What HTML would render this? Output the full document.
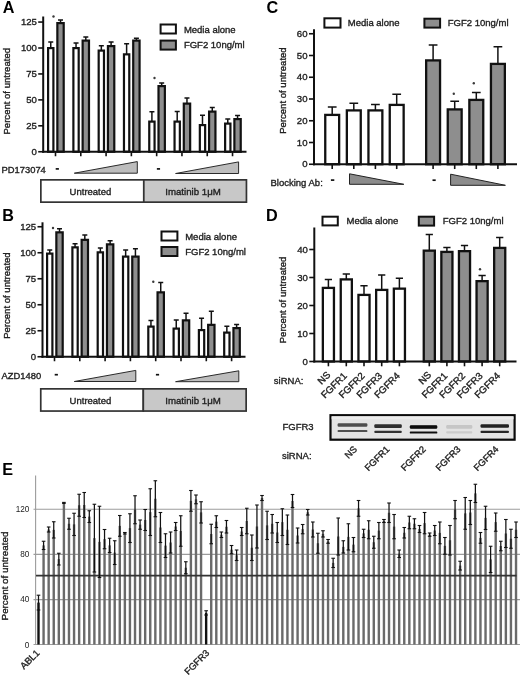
<!DOCTYPE html>
<html><head><meta charset="utf-8"><title>Figure</title>
<style>html,body{margin:0;padding:0;background:#fff;width:520px;height:676px;overflow:hidden}svg{display:block;font-family:"Liberation Sans", sans-serif;will-change:transform;filter:blur(0.3px)}</style>
</head><body>
<svg width="520" height="676" viewBox="0 0 520 676" font-family='&quot;Liberation Sans&quot;, sans-serif'>
<defs><filter id="blur" x="-10%" y="-100%" width="120%" height="300%"><feGaussianBlur stdDeviation="0.5"/></filter></defs>
<rect width="520" height="676" fill="#fff"/>
<text x="2.8" y="13.4" font-size="16.2" text-anchor="start" font-weight="bold" fill="#000">A</text>
<line x1="43.2" y1="16.5" x2="43.2" y2="152.75" stroke="#111" stroke-width="2"/>
<line x1="38.2" y1="151.75" x2="43.2" y2="151.75" stroke="#111" stroke-width="1.6"/>
<text x="36.9" y="155.15" font-size="9.6" text-anchor="end" font-weight="normal" fill="#222" stroke="#222" stroke-width="0.35">0</text>
<line x1="38.2" y1="125.81" x2="43.2" y2="125.81" stroke="#111" stroke-width="1.6"/>
<text x="36.9" y="129.21" font-size="9.6" text-anchor="end" font-weight="normal" fill="#222" stroke="#222" stroke-width="0.35">25</text>
<line x1="38.2" y1="99.88" x2="43.2" y2="99.88" stroke="#111" stroke-width="1.6"/>
<text x="36.9" y="103.28" font-size="9.6" text-anchor="end" font-weight="normal" fill="#222" stroke="#222" stroke-width="0.35">50</text>
<line x1="38.2" y1="73.94" x2="43.2" y2="73.94" stroke="#111" stroke-width="1.6"/>
<text x="36.9" y="77.34" font-size="9.6" text-anchor="end" font-weight="normal" fill="#222" stroke="#222" stroke-width="0.35">75</text>
<line x1="38.2" y1="48" x2="43.2" y2="48" stroke="#111" stroke-width="1.6"/>
<text x="36.9" y="51.4" font-size="9.6" text-anchor="end" font-weight="normal" fill="#222" stroke="#222" stroke-width="0.35">100</text>
<line x1="38.2" y1="22.06" x2="43.2" y2="22.06" stroke="#111" stroke-width="1.6"/>
<text x="36.9" y="25.46" font-size="9.6" text-anchor="end" font-weight="normal" fill="#222" stroke="#222" stroke-width="0.35">125</text>
<line x1="50.75" y1="48" x2="50.75" y2="42" stroke="#111" stroke-width="1.5"/>
<line x1="48.25" y1="42" x2="53.25" y2="42" stroke="#111" stroke-width="1.5"/>
<rect x="48.1" y="48.1" width="5.3" height="103.65" fill="#fff" stroke="#111" stroke-width="2.2"/>
<line x1="60.52" y1="23" x2="60.52" y2="20" stroke="#111" stroke-width="1.5"/>
<line x1="58.02" y1="20" x2="63.02" y2="20" stroke="#111" stroke-width="1.5"/>
<rect x="57.35" y="23.1" width="6.35" height="128.65" fill="#8e8e8e" stroke="#111" stroke-width="2.2"/>
<line x1="55.5" y1="151.75" x2="55.5" y2="156.25" stroke="#111" stroke-width="1.6"/>
<line x1="76.04" y1="48" x2="76.04" y2="43" stroke="#111" stroke-width="1.5"/>
<line x1="73.54" y1="43" x2="78.54" y2="43" stroke="#111" stroke-width="1.5"/>
<rect x="73.39" y="48.1" width="5.3" height="103.65" fill="#fff" stroke="#111" stroke-width="2.2"/>
<line x1="85.81" y1="40.5" x2="85.81" y2="37" stroke="#111" stroke-width="1.5"/>
<line x1="83.31" y1="37" x2="88.31" y2="37" stroke="#111" stroke-width="1.5"/>
<rect x="82.64" y="40.6" width="6.35" height="111.15" fill="#8e8e8e" stroke="#111" stroke-width="2.2"/>
<line x1="80.79" y1="151.75" x2="80.79" y2="156.25" stroke="#111" stroke-width="1.6"/>
<line x1="101.33" y1="50.5" x2="101.33" y2="45.75" stroke="#111" stroke-width="1.5"/>
<line x1="98.83" y1="45.75" x2="103.83" y2="45.75" stroke="#111" stroke-width="1.5"/>
<rect x="98.68" y="50.6" width="5.3" height="101.15" fill="#fff" stroke="#111" stroke-width="2.2"/>
<line x1="111.1" y1="46" x2="111.1" y2="42" stroke="#111" stroke-width="1.5"/>
<line x1="108.6" y1="42" x2="113.6" y2="42" stroke="#111" stroke-width="1.5"/>
<rect x="107.93" y="46.1" width="6.35" height="105.65" fill="#8e8e8e" stroke="#111" stroke-width="2.2"/>
<line x1="106.08" y1="151.75" x2="106.08" y2="156.25" stroke="#111" stroke-width="1.6"/>
<line x1="126.62" y1="54.25" x2="126.62" y2="43.75" stroke="#111" stroke-width="1.5"/>
<line x1="124.12" y1="43.75" x2="129.12" y2="43.75" stroke="#111" stroke-width="1.5"/>
<rect x="123.97" y="54.35" width="5.3" height="97.4" fill="#fff" stroke="#111" stroke-width="2.2"/>
<line x1="136.4" y1="40.5" x2="136.4" y2="38.25" stroke="#111" stroke-width="1.5"/>
<line x1="133.9" y1="38.25" x2="138.9" y2="38.25" stroke="#111" stroke-width="1.5"/>
<rect x="133.22" y="40.6" width="6.35" height="111.15" fill="#8e8e8e" stroke="#111" stroke-width="2.2"/>
<line x1="131.37" y1="151.75" x2="131.37" y2="156.25" stroke="#111" stroke-width="1.6"/>
<line x1="151.91" y1="121.5" x2="151.91" y2="111.75" stroke="#111" stroke-width="1.5"/>
<line x1="149.41" y1="111.75" x2="154.41" y2="111.75" stroke="#111" stroke-width="1.5"/>
<rect x="149.26" y="121.6" width="5.3" height="30.15" fill="#fff" stroke="#111" stroke-width="2.2"/>
<line x1="161.69" y1="86" x2="161.69" y2="83" stroke="#111" stroke-width="1.5"/>
<line x1="159.19" y1="83" x2="164.19" y2="83" stroke="#111" stroke-width="1.5"/>
<rect x="158.51" y="86.1" width="6.35" height="65.65" fill="#8e8e8e" stroke="#111" stroke-width="2.2"/>
<line x1="156.66" y1="151.75" x2="156.66" y2="156.25" stroke="#111" stroke-width="1.6"/>
<line x1="177.2" y1="121.5" x2="177.2" y2="111.5" stroke="#111" stroke-width="1.5"/>
<line x1="174.7" y1="111.5" x2="179.7" y2="111.5" stroke="#111" stroke-width="1.5"/>
<rect x="174.55" y="121.6" width="5.3" height="30.15" fill="#fff" stroke="#111" stroke-width="2.2"/>
<line x1="186.97" y1="103.5" x2="186.97" y2="98" stroke="#111" stroke-width="1.5"/>
<line x1="184.47" y1="98" x2="189.47" y2="98" stroke="#111" stroke-width="1.5"/>
<rect x="183.8" y="103.6" width="6.35" height="48.15" fill="#8e8e8e" stroke="#111" stroke-width="2.2"/>
<line x1="181.95" y1="151.75" x2="181.95" y2="156.25" stroke="#111" stroke-width="1.6"/>
<line x1="202.49" y1="125" x2="202.49" y2="115.25" stroke="#111" stroke-width="1.5"/>
<line x1="199.99" y1="115.25" x2="204.99" y2="115.25" stroke="#111" stroke-width="1.5"/>
<rect x="199.84" y="125.1" width="5.3" height="26.65" fill="#fff" stroke="#111" stroke-width="2.2"/>
<line x1="212.27" y1="111.5" x2="212.27" y2="107.5" stroke="#111" stroke-width="1.5"/>
<line x1="209.77" y1="107.5" x2="214.77" y2="107.5" stroke="#111" stroke-width="1.5"/>
<rect x="209.09" y="111.6" width="6.35" height="40.15" fill="#8e8e8e" stroke="#111" stroke-width="2.2"/>
<line x1="207.24" y1="151.75" x2="207.24" y2="156.25" stroke="#111" stroke-width="1.6"/>
<line x1="227.78" y1="123.5" x2="227.78" y2="119" stroke="#111" stroke-width="1.5"/>
<line x1="225.28" y1="119" x2="230.28" y2="119" stroke="#111" stroke-width="1.5"/>
<rect x="225.13" y="123.6" width="5.3" height="28.15" fill="#fff" stroke="#111" stroke-width="2.2"/>
<line x1="237.56" y1="119" x2="237.56" y2="115.5" stroke="#111" stroke-width="1.5"/>
<line x1="235.06" y1="115.5" x2="240.06" y2="115.5" stroke="#111" stroke-width="1.5"/>
<rect x="234.38" y="119.1" width="6.35" height="32.65" fill="#8e8e8e" stroke="#111" stroke-width="2.2"/>
<line x1="232.53" y1="151.75" x2="232.53" y2="156.25" stroke="#111" stroke-width="1.6"/>
<line x1="42.2" y1="151.75" x2="246.5" y2="151.75" stroke="#111" stroke-width="2"/>
<circle cx="53.5" cy="16.5" r="1.2" fill="#3a3a3a"/>
<circle cx="154.5" cy="78" r="1.2" fill="#3a3a3a"/>
<text transform="translate(10 91.25) rotate(-90)" font-size="9.55" text-anchor="middle" font-weight="normal" fill="#222" stroke="#222" stroke-width="0.35">Percent of untreated</text>
<rect x="160.6" y="24.5" width="15.3" height="9" fill="#fff" stroke="#111" stroke-width="2"/>
<rect x="160.6" y="40.6" width="15.3" height="9" fill="#8e8e8e" stroke="#111" stroke-width="2"/>
<text x="183.9" y="33.1" font-size="9.5" text-anchor="start" font-weight="normal" fill="#222" stroke="#222" stroke-width="0.35">Media alone</text>
<text x="183.9" y="47.8" font-size="9.5" text-anchor="start" font-weight="normal" fill="#222" stroke="#222" stroke-width="0.35">FGF2 10ng/ml</text>
<text x="1.5" y="173.3" font-size="9.4" text-anchor="start" font-weight="normal" fill="#222" stroke="#222" stroke-width="0.35">PD173074</text>
<line x1="55.7" y1="168.9" x2="58.9" y2="168.9" stroke="#111" stroke-width="1.7"/>
<line x1="156.86" y1="168.9" x2="160.06" y2="168.9" stroke="#111" stroke-width="1.7"/>
<polygon points="74.3,173.2 137.3,161.6 137.3,173.2" fill="#bdbdbd" stroke="#2a2a2a" stroke-width="1" stroke-linejoin="miter"/>
<polygon points="175.6,173.5 238.6,161.9 238.6,173.5" fill="#bdbdbd" stroke="#2a2a2a" stroke-width="1" stroke-linejoin="miter"/>
<rect x="40.85" y="179.85" width="102.95" height="22.3" fill="#fff" stroke="#333" stroke-width="1.7"/>
<rect x="143.8" y="179.85" width="102.65" height="22.3" fill="#c8c8c8" stroke="#333" stroke-width="1.7"/>
<text x="69.6" y="195.4" font-size="9.5" text-anchor="start" font-weight="normal" fill="#222" stroke="#222" stroke-width="0.35">Untreated</text>
<text x="165.2" y="195.4" font-size="9.7" text-anchor="start" font-weight="normal" fill="#222" stroke="#222" stroke-width="0.35">Imatinib 1&#956;M</text>
<text x="2.3" y="221" font-size="16.2" text-anchor="start" font-weight="bold" fill="#000">B</text>
<line x1="42.5" y1="222.3" x2="42.5" y2="357.75" stroke="#111" stroke-width="2"/>
<line x1="37.5" y1="356.75" x2="42.5" y2="356.75" stroke="#111" stroke-width="1.6"/>
<text x="36.2" y="360.15" font-size="9.6" text-anchor="end" font-weight="normal" fill="#222" stroke="#222" stroke-width="0.35">0</text>
<line x1="37.5" y1="330.75" x2="42.5" y2="330.75" stroke="#111" stroke-width="1.6"/>
<text x="36.2" y="334.15" font-size="9.6" text-anchor="end" font-weight="normal" fill="#222" stroke="#222" stroke-width="0.35">25</text>
<line x1="37.5" y1="304.75" x2="42.5" y2="304.75" stroke="#111" stroke-width="1.6"/>
<text x="36.2" y="308.15" font-size="9.6" text-anchor="end" font-weight="normal" fill="#222" stroke="#222" stroke-width="0.35">50</text>
<line x1="37.5" y1="278.75" x2="42.5" y2="278.75" stroke="#111" stroke-width="1.6"/>
<text x="36.2" y="282.15" font-size="9.6" text-anchor="end" font-weight="normal" fill="#222" stroke="#222" stroke-width="0.35">75</text>
<line x1="37.5" y1="252.75" x2="42.5" y2="252.75" stroke="#111" stroke-width="1.6"/>
<text x="36.2" y="256.15" font-size="9.6" text-anchor="end" font-weight="normal" fill="#222" stroke="#222" stroke-width="0.35">100</text>
<line x1="37.5" y1="226.75" x2="42.5" y2="226.75" stroke="#111" stroke-width="1.6"/>
<text x="36.2" y="230.15" font-size="9.6" text-anchor="end" font-weight="normal" fill="#222" stroke="#222" stroke-width="0.35">125</text>
<line x1="49.75" y1="253.5" x2="49.75" y2="250" stroke="#111" stroke-width="1.5"/>
<line x1="47.25" y1="250" x2="52.25" y2="250" stroke="#111" stroke-width="1.5"/>
<rect x="47.1" y="253.6" width="5.3" height="103.15" fill="#fff" stroke="#111" stroke-width="2.2"/>
<line x1="59.52" y1="232.25" x2="59.52" y2="228.75" stroke="#111" stroke-width="1.5"/>
<line x1="57.02" y1="228.75" x2="62.02" y2="228.75" stroke="#111" stroke-width="1.5"/>
<rect x="56.35" y="232.35" width="6.35" height="124.4" fill="#8e8e8e" stroke="#111" stroke-width="2.2"/>
<line x1="54.5" y1="356.75" x2="54.5" y2="361.25" stroke="#111" stroke-width="1.6"/>
<line x1="75.05" y1="247.25" x2="75.05" y2="243.75" stroke="#111" stroke-width="1.5"/>
<line x1="72.55" y1="243.75" x2="77.55" y2="243.75" stroke="#111" stroke-width="1.5"/>
<rect x="72.4" y="247.35" width="5.3" height="109.4" fill="#fff" stroke="#111" stroke-width="2.2"/>
<line x1="84.82" y1="239.75" x2="84.82" y2="235" stroke="#111" stroke-width="1.5"/>
<line x1="82.32" y1="235" x2="87.32" y2="235" stroke="#111" stroke-width="1.5"/>
<rect x="81.65" y="239.85" width="6.35" height="116.9" fill="#8e8e8e" stroke="#111" stroke-width="2.2"/>
<line x1="79.8" y1="356.75" x2="79.8" y2="361.25" stroke="#111" stroke-width="1.6"/>
<line x1="100.35" y1="252.25" x2="100.35" y2="248" stroke="#111" stroke-width="1.5"/>
<line x1="97.85" y1="248" x2="102.85" y2="248" stroke="#111" stroke-width="1.5"/>
<rect x="97.7" y="252.35" width="5.3" height="104.4" fill="#fff" stroke="#111" stroke-width="2.2"/>
<line x1="110.12" y1="244.25" x2="110.12" y2="240.75" stroke="#111" stroke-width="1.5"/>
<line x1="107.62" y1="240.75" x2="112.62" y2="240.75" stroke="#111" stroke-width="1.5"/>
<rect x="106.95" y="244.35" width="6.35" height="112.4" fill="#8e8e8e" stroke="#111" stroke-width="2.2"/>
<line x1="105.1" y1="356.75" x2="105.1" y2="361.25" stroke="#111" stroke-width="1.6"/>
<line x1="125.65" y1="256.5" x2="125.65" y2="250" stroke="#111" stroke-width="1.5"/>
<line x1="123.15" y1="250" x2="128.15" y2="250" stroke="#111" stroke-width="1.5"/>
<rect x="123" y="256.6" width="5.3" height="100.15" fill="#fff" stroke="#111" stroke-width="2.2"/>
<line x1="135.43" y1="256.5" x2="135.43" y2="248.75" stroke="#111" stroke-width="1.5"/>
<line x1="132.93" y1="248.75" x2="137.93" y2="248.75" stroke="#111" stroke-width="1.5"/>
<rect x="132.25" y="256.6" width="6.35" height="100.15" fill="#8e8e8e" stroke="#111" stroke-width="2.2"/>
<line x1="130.4" y1="356.75" x2="130.4" y2="361.25" stroke="#111" stroke-width="1.6"/>
<line x1="150.95" y1="326.5" x2="150.95" y2="320.5" stroke="#111" stroke-width="1.5"/>
<line x1="148.45" y1="320.5" x2="153.45" y2="320.5" stroke="#111" stroke-width="1.5"/>
<rect x="148.3" y="326.6" width="5.3" height="30.15" fill="#fff" stroke="#111" stroke-width="2.2"/>
<line x1="160.72" y1="292.25" x2="160.72" y2="282.5" stroke="#111" stroke-width="1.5"/>
<line x1="158.22" y1="282.5" x2="163.22" y2="282.5" stroke="#111" stroke-width="1.5"/>
<rect x="157.55" y="292.35" width="6.35" height="64.4" fill="#8e8e8e" stroke="#111" stroke-width="2.2"/>
<line x1="155.7" y1="356.75" x2="155.7" y2="361.25" stroke="#111" stroke-width="1.6"/>
<line x1="176.25" y1="328.5" x2="176.25" y2="320" stroke="#111" stroke-width="1.5"/>
<line x1="173.75" y1="320" x2="178.75" y2="320" stroke="#111" stroke-width="1.5"/>
<rect x="173.6" y="328.6" width="5.3" height="28.15" fill="#fff" stroke="#111" stroke-width="2.2"/>
<line x1="186.03" y1="320.25" x2="186.03" y2="313.25" stroke="#111" stroke-width="1.5"/>
<line x1="183.53" y1="313.25" x2="188.53" y2="313.25" stroke="#111" stroke-width="1.5"/>
<rect x="182.85" y="320.35" width="6.35" height="36.4" fill="#8e8e8e" stroke="#111" stroke-width="2.2"/>
<line x1="181" y1="356.75" x2="181" y2="361.25" stroke="#111" stroke-width="1.6"/>
<line x1="201.55" y1="330" x2="201.55" y2="318.25" stroke="#111" stroke-width="1.5"/>
<line x1="199.05" y1="318.25" x2="204.05" y2="318.25" stroke="#111" stroke-width="1.5"/>
<rect x="198.9" y="330.1" width="5.3" height="26.65" fill="#fff" stroke="#111" stroke-width="2.2"/>
<line x1="211.33" y1="324.75" x2="211.33" y2="311.25" stroke="#111" stroke-width="1.5"/>
<line x1="208.83" y1="311.25" x2="213.83" y2="311.25" stroke="#111" stroke-width="1.5"/>
<rect x="208.15" y="324.85" width="6.35" height="31.9" fill="#8e8e8e" stroke="#111" stroke-width="2.2"/>
<line x1="206.3" y1="356.75" x2="206.3" y2="361.25" stroke="#111" stroke-width="1.6"/>
<line x1="226.85" y1="332.5" x2="226.85" y2="326.25" stroke="#111" stroke-width="1.5"/>
<line x1="224.35" y1="326.25" x2="229.35" y2="326.25" stroke="#111" stroke-width="1.5"/>
<rect x="224.2" y="332.6" width="5.3" height="24.15" fill="#fff" stroke="#111" stroke-width="2.2"/>
<line x1="236.62" y1="328" x2="236.62" y2="324.5" stroke="#111" stroke-width="1.5"/>
<line x1="234.12" y1="324.5" x2="239.12" y2="324.5" stroke="#111" stroke-width="1.5"/>
<rect x="233.45" y="328.1" width="6.35" height="28.65" fill="#8e8e8e" stroke="#111" stroke-width="2.2"/>
<line x1="231.6" y1="356.75" x2="231.6" y2="361.25" stroke="#111" stroke-width="1.6"/>
<line x1="41.5" y1="356.75" x2="245.5" y2="356.75" stroke="#111" stroke-width="2"/>
<circle cx="53" cy="228" r="1.2" fill="#3a3a3a"/>
<circle cx="153.3" cy="281.8" r="1.2" fill="#3a3a3a"/>
<text transform="translate(10 295.6) rotate(-90)" font-size="9.55" text-anchor="middle" font-weight="normal" fill="#222" stroke="#222" stroke-width="0.35">Percent of untreated</text>
<rect x="161.5" y="231.5" width="15.9" height="9" fill="#fff" stroke="#111" stroke-width="2"/>
<rect x="161.5" y="247" width="15.9" height="9" fill="#8e8e8e" stroke="#111" stroke-width="2"/>
<text x="185.2" y="239.6" font-size="9.5" text-anchor="start" font-weight="normal" fill="#222" stroke="#222" stroke-width="0.35">Media alone</text>
<text x="185.2" y="254.8" font-size="9.5" text-anchor="start" font-weight="normal" fill="#222" stroke="#222" stroke-width="0.35">FGF2 10ng/ml</text>
<text x="1.5" y="379.1" font-size="9.4" text-anchor="start" font-weight="normal" fill="#222" stroke="#222" stroke-width="0.35">AZD1480</text>
<line x1="54.7" y1="374.7" x2="57.9" y2="374.7" stroke="#111" stroke-width="1.7"/>
<line x1="155.9" y1="374.7" x2="159.1" y2="374.7" stroke="#111" stroke-width="1.7"/>
<polygon points="74.3,381.5 135.8,370.4 135.8,381.5" fill="#bdbdbd" stroke="#2a2a2a" stroke-width="1" stroke-linejoin="miter"/>
<polygon points="175.6,381.7 238.8,370.8 238.8,381.7" fill="#bdbdbd" stroke="#2a2a2a" stroke-width="1" stroke-linejoin="miter"/>
<rect x="40.75" y="388.85" width="102.55" height="22.2" fill="#fff" stroke="#333" stroke-width="1.7"/>
<rect x="143.3" y="388.85" width="102.85" height="22.2" fill="#c8c8c8" stroke="#333" stroke-width="1.7"/>
<text x="69.6" y="404.3" font-size="9.5" text-anchor="start" font-weight="normal" fill="#222" stroke="#222" stroke-width="0.35">Untreated</text>
<text x="165.2" y="404.3" font-size="9.7" text-anchor="start" font-weight="normal" fill="#222" stroke="#222" stroke-width="0.35">Imatinib 1&#956;M</text>
<text x="266.4" y="13.3" font-size="16.2" text-anchor="start" font-weight="bold" fill="#000">C</text>
<line x1="314" y1="29.2" x2="314" y2="165.25" stroke="#111" stroke-width="2"/>
<line x1="309" y1="164.25" x2="314" y2="164.25" stroke="#111" stroke-width="1.6"/>
<text x="307.5" y="167.45" font-size="9.6" text-anchor="end" font-weight="normal" fill="#222" stroke="#222" stroke-width="0.35">0</text>
<line x1="309" y1="142.5" x2="314" y2="142.5" stroke="#111" stroke-width="1.6"/>
<text x="307.5" y="145.7" font-size="9.6" text-anchor="end" font-weight="normal" fill="#222" stroke="#222" stroke-width="0.35">10</text>
<line x1="309" y1="120.75" x2="314" y2="120.75" stroke="#111" stroke-width="1.6"/>
<text x="307.5" y="123.95" font-size="9.6" text-anchor="end" font-weight="normal" fill="#222" stroke="#222" stroke-width="0.35">20</text>
<line x1="309" y1="99" x2="314" y2="99" stroke="#111" stroke-width="1.6"/>
<text x="307.5" y="102.2" font-size="9.6" text-anchor="end" font-weight="normal" fill="#222" stroke="#222" stroke-width="0.35">30</text>
<line x1="309" y1="77.25" x2="314" y2="77.25" stroke="#111" stroke-width="1.6"/>
<text x="307.5" y="80.45" font-size="9.6" text-anchor="end" font-weight="normal" fill="#222" stroke="#222" stroke-width="0.35">40</text>
<line x1="309" y1="55.5" x2="314" y2="55.5" stroke="#111" stroke-width="1.6"/>
<text x="307.5" y="58.7" font-size="9.6" text-anchor="end" font-weight="normal" fill="#222" stroke="#222" stroke-width="0.35">50</text>
<line x1="309" y1="33.75" x2="314" y2="33.75" stroke="#111" stroke-width="1.6"/>
<text x="307.5" y="36.95" font-size="9.6" text-anchor="end" font-weight="normal" fill="#222" stroke="#222" stroke-width="0.35">60</text>
<line x1="332.2" y1="114.75" x2="332.2" y2="107" stroke="#111" stroke-width="1.5"/>
<line x1="327.83" y1="107" x2="336.57" y2="107" stroke="#111" stroke-width="1.5"/>
<rect x="325.25" y="114.9" width="13.9" height="49.35" fill="#fff" stroke="#111" stroke-width="2.3"/>
<line x1="332.2" y1="164.25" x2="332.2" y2="169.05" stroke="#111" stroke-width="1.6"/>
<line x1="353.8" y1="110.25" x2="353.8" y2="103.25" stroke="#111" stroke-width="1.5"/>
<line x1="349.43" y1="103.25" x2="358.17" y2="103.25" stroke="#111" stroke-width="1.5"/>
<rect x="346.85" y="110.4" width="13.9" height="53.85" fill="#fff" stroke="#111" stroke-width="2.3"/>
<line x1="353.8" y1="164.25" x2="353.8" y2="169.05" stroke="#111" stroke-width="1.6"/>
<line x1="375.4" y1="110.25" x2="375.4" y2="104.5" stroke="#111" stroke-width="1.5"/>
<line x1="371.03" y1="104.5" x2="379.77" y2="104.5" stroke="#111" stroke-width="1.5"/>
<rect x="368.45" y="110.4" width="13.9" height="53.85" fill="#fff" stroke="#111" stroke-width="2.3"/>
<line x1="375.4" y1="164.25" x2="375.4" y2="169.05" stroke="#111" stroke-width="1.6"/>
<line x1="396.7" y1="104.75" x2="396.7" y2="94.25" stroke="#111" stroke-width="1.5"/>
<line x1="392.33" y1="94.25" x2="401.07" y2="94.25" stroke="#111" stroke-width="1.5"/>
<rect x="389.75" y="104.9" width="13.9" height="59.35" fill="#fff" stroke="#111" stroke-width="2.3"/>
<line x1="396.7" y1="164.25" x2="396.7" y2="169.05" stroke="#111" stroke-width="1.6"/>
<line x1="433.1" y1="60.25" x2="433.1" y2="45" stroke="#111" stroke-width="1.5"/>
<line x1="428.73" y1="45" x2="437.47" y2="45" stroke="#111" stroke-width="1.5"/>
<rect x="426.15" y="60.4" width="13.9" height="103.85" fill="#8e8e8e" stroke="#111" stroke-width="2.3"/>
<line x1="433.1" y1="164.25" x2="433.1" y2="169.05" stroke="#111" stroke-width="1.6"/>
<line x1="454.7" y1="109.25" x2="454.7" y2="101.25" stroke="#111" stroke-width="1.5"/>
<line x1="450.33" y1="101.25" x2="459.07" y2="101.25" stroke="#111" stroke-width="1.5"/>
<rect x="447.75" y="109.4" width="13.9" height="54.85" fill="#8e8e8e" stroke="#111" stroke-width="2.3"/>
<line x1="454.7" y1="164.25" x2="454.7" y2="169.05" stroke="#111" stroke-width="1.6"/>
<line x1="476.3" y1="99.75" x2="476.3" y2="92.5" stroke="#111" stroke-width="1.5"/>
<line x1="471.93" y1="92.5" x2="480.67" y2="92.5" stroke="#111" stroke-width="1.5"/>
<rect x="469.35" y="99.9" width="13.9" height="64.35" fill="#8e8e8e" stroke="#111" stroke-width="2.3"/>
<line x1="476.3" y1="164.25" x2="476.3" y2="169.05" stroke="#111" stroke-width="1.6"/>
<line x1="497.9" y1="63.75" x2="497.9" y2="46.75" stroke="#111" stroke-width="1.5"/>
<line x1="493.53" y1="46.75" x2="502.27" y2="46.75" stroke="#111" stroke-width="1.5"/>
<rect x="490.95" y="63.9" width="13.9" height="100.35" fill="#8e8e8e" stroke="#111" stroke-width="2.3"/>
<line x1="497.9" y1="164.25" x2="497.9" y2="169.05" stroke="#111" stroke-width="1.6"/>
<line x1="313" y1="164.25" x2="517" y2="164.25" stroke="#111" stroke-width="2"/>
<circle cx="453.8" cy="93.8" r="1.2" fill="#3a3a3a"/>
<circle cx="473.8" cy="83.3" r="1.2" fill="#3a3a3a"/>
<text transform="translate(286 90.6) rotate(-90)" font-size="9.55" text-anchor="middle" font-weight="normal" fill="#222" stroke="#222" stroke-width="0.35">Percent of untreated</text>
<rect x="324.4" y="18.3" width="16.1" height="9.3" fill="#fff" stroke="#111" stroke-width="2"/>
<text x="347.8" y="26.3" font-size="9.5" text-anchor="start" font-weight="normal" fill="#222" stroke="#222" stroke-width="0.35">Media alone</text>
<rect x="424.4" y="18.7" width="15.7" height="8.9" fill="#8e8e8e" stroke="#111" stroke-width="2"/>
<text x="447.8" y="26.3" font-size="9.5" text-anchor="start" font-weight="normal" fill="#222" stroke="#222" stroke-width="0.35">FGF2 10ng/ml</text>
<text x="270.5" y="185.8" font-size="9.5" text-anchor="start" font-weight="normal" fill="#222" stroke="#222" stroke-width="0.35">Blocking Ab:</text>
<line x1="330.9" y1="180.1" x2="334.3" y2="180.1" stroke="#111" stroke-width="1.7"/>
<line x1="432.5" y1="180.2" x2="435.7" y2="180.2" stroke="#111" stroke-width="1.7"/>
<polygon points="349.5,173.8 349.5,184.3 403.8,184.3" fill="#8c8c8c" stroke="#222" stroke-width="1"/>
<polygon points="450.6,174.2 450.6,185.3 505.4,185.3" fill="#8c8c8c" stroke="#222" stroke-width="1"/>
<text x="266" y="221" font-size="16.2" text-anchor="start" font-weight="bold" fill="#000">D</text>
<line x1="314.3" y1="227.5" x2="314.3" y2="362.5" stroke="#111" stroke-width="2"/>
<line x1="309.3" y1="361.5" x2="314.3" y2="361.5" stroke="#111" stroke-width="1.6"/>
<text x="307.8" y="364.7" font-size="9.6" text-anchor="end" font-weight="normal" fill="#222" stroke="#222" stroke-width="0.35">0</text>
<line x1="309.3" y1="333.5" x2="314.3" y2="333.5" stroke="#111" stroke-width="1.6"/>
<text x="307.8" y="336.7" font-size="9.6" text-anchor="end" font-weight="normal" fill="#222" stroke="#222" stroke-width="0.35">10</text>
<line x1="309.3" y1="305.5" x2="314.3" y2="305.5" stroke="#111" stroke-width="1.6"/>
<text x="307.8" y="308.7" font-size="9.6" text-anchor="end" font-weight="normal" fill="#222" stroke="#222" stroke-width="0.35">20</text>
<line x1="309.3" y1="277.5" x2="314.3" y2="277.5" stroke="#111" stroke-width="1.6"/>
<text x="307.8" y="280.7" font-size="9.6" text-anchor="end" font-weight="normal" fill="#222" stroke="#222" stroke-width="0.35">30</text>
<line x1="309.3" y1="249.5" x2="314.3" y2="249.5" stroke="#111" stroke-width="1.6"/>
<text x="307.8" y="252.7" font-size="9.6" text-anchor="end" font-weight="normal" fill="#222" stroke="#222" stroke-width="0.35">40</text>
<line x1="328.4" y1="287.75" x2="328.4" y2="279.5" stroke="#111" stroke-width="1.5"/>
<line x1="324.78" y1="279.5" x2="332.02" y2="279.5" stroke="#111" stroke-width="1.5"/>
<rect x="322.85" y="287.9" width="11.1" height="73.6" fill="#fff" stroke="#111" stroke-width="2.3"/>
<line x1="328.4" y1="361.5" x2="328.4" y2="366.3" stroke="#111" stroke-width="1.6"/>
<line x1="346.3" y1="279.25" x2="346.3" y2="274" stroke="#111" stroke-width="1.5"/>
<line x1="342.68" y1="274" x2="349.92" y2="274" stroke="#111" stroke-width="1.5"/>
<rect x="340.75" y="279.4" width="11.1" height="82.1" fill="#fff" stroke="#111" stroke-width="2.3"/>
<line x1="346.3" y1="361.5" x2="346.3" y2="366.3" stroke="#111" stroke-width="1.6"/>
<line x1="364" y1="294.75" x2="364" y2="285.75" stroke="#111" stroke-width="1.5"/>
<line x1="360.38" y1="285.75" x2="367.62" y2="285.75" stroke="#111" stroke-width="1.5"/>
<rect x="358.45" y="294.9" width="11.1" height="66.6" fill="#fff" stroke="#111" stroke-width="2.3"/>
<line x1="364" y1="361.5" x2="364" y2="366.3" stroke="#111" stroke-width="1.6"/>
<line x1="381.7" y1="289.75" x2="381.7" y2="275" stroke="#111" stroke-width="1.5"/>
<line x1="378.08" y1="275" x2="385.32" y2="275" stroke="#111" stroke-width="1.5"/>
<rect x="376.15" y="289.9" width="11.1" height="71.6" fill="#fff" stroke="#111" stroke-width="2.3"/>
<line x1="381.7" y1="361.5" x2="381.7" y2="366.3" stroke="#111" stroke-width="1.6"/>
<line x1="399.4" y1="288.5" x2="399.4" y2="278.25" stroke="#111" stroke-width="1.5"/>
<line x1="395.78" y1="278.25" x2="403.02" y2="278.25" stroke="#111" stroke-width="1.5"/>
<rect x="393.85" y="288.65" width="11.1" height="72.85" fill="#fff" stroke="#111" stroke-width="2.3"/>
<line x1="399.4" y1="361.5" x2="399.4" y2="366.3" stroke="#111" stroke-width="1.6"/>
<line x1="429.3" y1="250.5" x2="429.3" y2="234.5" stroke="#111" stroke-width="1.5"/>
<line x1="425.68" y1="234.5" x2="432.92" y2="234.5" stroke="#111" stroke-width="1.5"/>
<rect x="423.75" y="250.65" width="11.1" height="110.85" fill="#8e8e8e" stroke="#111" stroke-width="2.3"/>
<line x1="429.3" y1="361.5" x2="429.3" y2="366.3" stroke="#111" stroke-width="1.6"/>
<line x1="446.9" y1="251.75" x2="446.9" y2="247.5" stroke="#111" stroke-width="1.5"/>
<line x1="443.28" y1="247.5" x2="450.52" y2="247.5" stroke="#111" stroke-width="1.5"/>
<rect x="441.35" y="251.9" width="11.1" height="109.6" fill="#8e8e8e" stroke="#111" stroke-width="2.3"/>
<line x1="446.9" y1="361.5" x2="446.9" y2="366.3" stroke="#111" stroke-width="1.6"/>
<line x1="464.5" y1="251" x2="464.5" y2="245.5" stroke="#111" stroke-width="1.5"/>
<line x1="460.88" y1="245.5" x2="468.12" y2="245.5" stroke="#111" stroke-width="1.5"/>
<rect x="458.95" y="251.15" width="11.1" height="110.35" fill="#8e8e8e" stroke="#111" stroke-width="2.3"/>
<line x1="464.5" y1="361.5" x2="464.5" y2="366.3" stroke="#111" stroke-width="1.6"/>
<line x1="482.1" y1="281" x2="482.1" y2="275.5" stroke="#111" stroke-width="1.5"/>
<line x1="478.48" y1="275.5" x2="485.72" y2="275.5" stroke="#111" stroke-width="1.5"/>
<rect x="476.55" y="281.15" width="11.1" height="80.35" fill="#8e8e8e" stroke="#111" stroke-width="2.3"/>
<line x1="482.1" y1="361.5" x2="482.1" y2="366.3" stroke="#111" stroke-width="1.6"/>
<line x1="499.7" y1="247.75" x2="499.7" y2="237.5" stroke="#111" stroke-width="1.5"/>
<line x1="496.08" y1="237.5" x2="503.32" y2="237.5" stroke="#111" stroke-width="1.5"/>
<rect x="494.15" y="247.9" width="11.1" height="113.6" fill="#8e8e8e" stroke="#111" stroke-width="2.3"/>
<line x1="499.7" y1="361.5" x2="499.7" y2="366.3" stroke="#111" stroke-width="1.6"/>
<line x1="313.3" y1="361.5" x2="516.5" y2="361.5" stroke="#111" stroke-width="2"/>
<circle cx="480" cy="269.3" r="1.2" fill="#3a3a3a"/>
<text transform="translate(285.7 300) rotate(-90)" font-size="9.55" text-anchor="middle" font-weight="normal" fill="#222" stroke="#222" stroke-width="0.35">Percent of untreated</text>
<rect x="322.5" y="216.7" width="15.3" height="8.7" fill="#fff" stroke="#111" stroke-width="2"/>
<text x="346.5" y="224.3" font-size="9.5" text-anchor="start" font-weight="normal" fill="#222" stroke="#222" stroke-width="0.35">Media alone</text>
<rect x="418.8" y="216.7" width="15.3" height="8.9" fill="#8e8e8e" stroke="#111" stroke-width="2"/>
<text x="442.8" y="224.3" font-size="9.5" text-anchor="start" font-weight="normal" fill="#222" stroke="#222" stroke-width="0.35">FGF2 10ng/ml</text>
<text x="273.8" y="384" font-size="9.5" text-anchor="start" font-weight="normal" fill="#222" stroke="#222" stroke-width="0.35">siRNA:</text>
<text transform="translate(331 375.4) rotate(-45)" font-size="9.7" text-anchor="end" font-weight="normal" fill="#222" stroke="#222" stroke-width="0.35">NS</text>
<text transform="translate(347.5 376.4) rotate(-45)" font-size="9.7" text-anchor="end" font-weight="normal" fill="#222" stroke="#222" stroke-width="0.35">FGFR1</text>
<text transform="translate(365.2 376.4) rotate(-45)" font-size="9.7" text-anchor="end" font-weight="normal" fill="#222" stroke="#222" stroke-width="0.35">FGFR2</text>
<text transform="translate(382.9 376.4) rotate(-45)" font-size="9.7" text-anchor="end" font-weight="normal" fill="#222" stroke="#222" stroke-width="0.35">FGFR3</text>
<text transform="translate(400.6 376.4) rotate(-45)" font-size="9.7" text-anchor="end" font-weight="normal" fill="#222" stroke="#222" stroke-width="0.35">FGFR4</text>
<text transform="translate(431.9 375.4) rotate(-45)" font-size="9.7" text-anchor="end" font-weight="normal" fill="#222" stroke="#222" stroke-width="0.35">NS</text>
<text transform="translate(448.1 376.4) rotate(-45)" font-size="9.7" text-anchor="end" font-weight="normal" fill="#222" stroke="#222" stroke-width="0.35">FGFR1</text>
<text transform="translate(465.7 376.4) rotate(-45)" font-size="9.7" text-anchor="end" font-weight="normal" fill="#222" stroke="#222" stroke-width="0.35">FGFR2</text>
<text transform="translate(483.3 376.4) rotate(-45)" font-size="9.7" text-anchor="end" font-weight="normal" fill="#222" stroke="#222" stroke-width="0.35">FGFR3</text>
<text transform="translate(500.9 376.4) rotate(-45)" font-size="9.7" text-anchor="end" font-weight="normal" fill="#222" stroke="#222" stroke-width="0.35">FGFR4</text>
<rect x="330.5" y="415.2" width="184.1" height="24.5" fill="#e3e3e3" stroke="#0a0a0a" stroke-width="2.2"/>
<rect x="331.6" y="416.3" width="181.9" height="3" fill="#ececec"/>
<rect x="337.6" y="423.2" width="29.8" height="3.6" rx="1.2" fill="#4e4e4e" filter="url(#blur)"/>
<rect x="337.6" y="429.9" width="29.8" height="2.2" rx="0.9" fill="#505050" filter="url(#blur)"/>
<rect x="374.3" y="424.3" width="27.5" height="3.6" rx="1.2" fill="#2e2e2e" filter="url(#blur)"/>
<rect x="374.3" y="430.8" width="27.5" height="2.2" rx="0.9" fill="#333333" filter="url(#blur)"/>
<rect x="409.8" y="425.2" width="27.5" height="3.6" rx="1.2" fill="#080808" filter="url(#blur)"/>
<rect x="409.8" y="431.4" width="27.5" height="2.2" rx="0.9" fill="#0e0e0e" filter="url(#blur)"/>
<rect x="446.2" y="425.1" width="26.1" height="3.6" rx="1.2" fill="#c6c6c6" filter="url(#blur)"/>
<rect x="446.2" y="431.2" width="26.1" height="2.2" rx="0.9" fill="#cbcbcb" filter="url(#blur)"/>
<rect x="480.5" y="424.2" width="28.5" height="3.6" rx="1.2" fill="#222222" filter="url(#blur)"/>
<rect x="480.5" y="430.8" width="28.5" height="2.2" rx="0.9" fill="#282828" filter="url(#blur)"/>
<text x="282.5" y="429.6" font-size="9.5" text-anchor="start" font-weight="normal" fill="#222" stroke="#222" stroke-width="0.35">FGFR3</text>
<text x="282" y="458.8" font-size="9.5" text-anchor="start" font-weight="normal" fill="#222" stroke="#222" stroke-width="0.35">siRNA:</text>
<text transform="translate(357.7 449.9) rotate(-45)" font-size="9.3" text-anchor="end" font-weight="normal" fill="#222" stroke="#222" stroke-width="0.35">NS</text>
<text transform="translate(390.1 449.9) rotate(-45)" font-size="9.3" text-anchor="end" font-weight="normal" fill="#222" stroke="#222" stroke-width="0.35">FGFR1</text>
<text transform="translate(426.3 449.9) rotate(-45)" font-size="9.3" text-anchor="end" font-weight="normal" fill="#222" stroke="#222" stroke-width="0.35">FGFR2</text>
<text transform="translate(461.1 449.9) rotate(-45)" font-size="9.3" text-anchor="end" font-weight="normal" fill="#222" stroke="#222" stroke-width="0.35">FGFR3</text>
<text transform="translate(499.1 449.9) rotate(-45)" font-size="9.3" text-anchor="end" font-weight="normal" fill="#222" stroke="#222" stroke-width="0.35">FGFR4</text>
<text x="2.3" y="474.5" font-size="16.2" text-anchor="start" font-weight="bold" fill="#000">E</text>
<line x1="33.5" y1="599.66" x2="520" y2="599.66" stroke="#9c9c9c" stroke-width="1.1"/>
<line x1="33.5" y1="554.42" x2="520" y2="554.42" stroke="#9c9c9c" stroke-width="1.1"/>
<line x1="33.5" y1="509.18" x2="520" y2="509.18" stroke="#9c9c9c" stroke-width="1.1"/>
<line x1="35.6" y1="475.5" x2="35.6" y2="644.5" stroke="#9c9c9c" stroke-width="1.1"/>
<line x1="33.5" y1="644.5" x2="520" y2="644.5" stroke="#9c9c9c" stroke-width="1"/>
<text x="29.3" y="647.5" font-size="8.2" text-anchor="end" font-weight="normal" fill="#222" stroke="none">0</text>
<text x="29.3" y="602.26" font-size="8.2" text-anchor="end" font-weight="normal" fill="#222" stroke="none">40</text>
<text x="29.3" y="557.02" font-size="8.2" text-anchor="end" font-weight="normal" fill="#222" stroke="none">80</text>
<text x="29.3" y="511.78" font-size="8.2" text-anchor="end" font-weight="normal" fill="#222" stroke="none">120</text>
<text transform="translate(7.9 576) rotate(-90)" font-size="9.8" text-anchor="middle" font-weight="normal" fill="#222" stroke="#222" stroke-width="0.35">Percent of untreated</text>
<rect x="37.3" y="602.6" width="2.4" height="41.9" fill="#111"/>
<rect x="42.38" y="545.38" width="2.4" height="99.12" fill="#6a6a6a"/>
<rect x="47.46" y="529.5" width="2.4" height="115" fill="#6a6a6a"/>
<rect x="52.54" y="529.88" width="2.4" height="114.62" fill="#6a6a6a"/>
<rect x="57.62" y="559.12" width="2.4" height="85.38" fill="#6a6a6a"/>
<rect x="62.7" y="502.9" width="2.4" height="141.6" fill="#6a6a6a"/>
<rect x="67.78" y="523.75" width="2.4" height="120.75" fill="#6a6a6a"/>
<rect x="72.86" y="524.38" width="2.4" height="120.12" fill="#6a6a6a"/>
<rect x="77.94" y="505.25" width="2.4" height="139.25" fill="#6a6a6a"/>
<rect x="83.02" y="505" width="2.4" height="139.5" fill="#6a6a6a"/>
<rect x="88.1" y="516.62" width="2.4" height="127.88" fill="#6a6a6a"/>
<rect x="93.18" y="538.12" width="2.4" height="106.38" fill="#6a6a6a"/>
<rect x="98.26" y="541.88" width="2.4" height="102.62" fill="#6a6a6a"/>
<rect x="103.34" y="539.12" width="2.4" height="105.38" fill="#6a6a6a"/>
<rect x="108.42" y="545.38" width="2.4" height="99.12" fill="#6a6a6a"/>
<rect x="113.5" y="552.62" width="2.4" height="91.88" fill="#6a6a6a"/>
<rect x="118.58" y="525.88" width="2.4" height="118.62" fill="#6a6a6a"/>
<rect x="123.66" y="533.25" width="2.4" height="111.25" fill="#6a6a6a"/>
<rect x="128.74" y="528.12" width="2.4" height="116.38" fill="#6a6a6a"/>
<rect x="133.82" y="509.75" width="2.4" height="134.75" fill="#6a6a6a"/>
<rect x="138.9" y="524.62" width="2.4" height="119.88" fill="#6a6a6a"/>
<rect x="143.98" y="520" width="2.4" height="124.5" fill="#6a6a6a"/>
<rect x="149.06" y="512.12" width="2.4" height="132.38" fill="#6a6a6a"/>
<rect x="154.14" y="498.75" width="2.4" height="145.75" fill="#6a6a6a"/>
<rect x="159.22" y="527.5" width="2.4" height="117" fill="#6a6a6a"/>
<rect x="164.3" y="545.62" width="2.4" height="98.88" fill="#6a6a6a"/>
<rect x="169.38" y="542.5" width="2.4" height="102" fill="#6a6a6a"/>
<rect x="174.46" y="526.5" width="2.4" height="118" fill="#6a6a6a"/>
<rect x="179.54" y="531" width="2.4" height="113.5" fill="#6a6a6a"/>
<rect x="184.62" y="567.75" width="2.4" height="76.75" fill="#6a6a6a"/>
<rect x="189.7" y="500.88" width="2.4" height="143.62" fill="#6a6a6a"/>
<rect x="194.78" y="499.38" width="2.4" height="145.12" fill="#6a6a6a"/>
<rect x="199.86" y="512.38" width="2.4" height="132.12" fill="#6a6a6a"/>
<rect x="204.94" y="612.88" width="2.4" height="31.62" fill="#111"/>
<rect x="210.02" y="534" width="2.4" height="110.5" fill="#6a6a6a"/>
<rect x="215.1" y="521.62" width="2.4" height="122.88" fill="#6a6a6a"/>
<rect x="220.18" y="534.75" width="2.4" height="109.75" fill="#6a6a6a"/>
<rect x="225.26" y="526.75" width="2.4" height="117.75" fill="#6a6a6a"/>
<rect x="230.34" y="549.62" width="2.4" height="94.88" fill="#6a6a6a"/>
<rect x="235.42" y="555.25" width="2.4" height="89.25" fill="#6a6a6a"/>
<rect x="240.5" y="531.5" width="2.4" height="113" fill="#6a6a6a"/>
<rect x="245.58" y="521" width="2.4" height="123.5" fill="#6a6a6a"/>
<rect x="250.66" y="547.75" width="2.4" height="96.75" fill="#6a6a6a"/>
<rect x="255.74" y="526.5" width="2.4" height="118" fill="#6a6a6a"/>
<rect x="260.82" y="498" width="2.4" height="146.5" fill="#6a6a6a"/>
<rect x="265.9" y="525.38" width="2.4" height="119.12" fill="#6a6a6a"/>
<rect x="270.98" y="523.75" width="2.4" height="120.75" fill="#6a6a6a"/>
<rect x="276.06" y="532.5" width="2.4" height="112" fill="#6a6a6a"/>
<rect x="281.14" y="522.12" width="2.4" height="122.38" fill="#6a6a6a"/>
<rect x="286.22" y="529.75" width="2.4" height="114.75" fill="#6a6a6a"/>
<rect x="291.3" y="501" width="2.4" height="143.5" fill="#6a6a6a"/>
<rect x="296.38" y="535.5" width="2.4" height="109" fill="#6a6a6a"/>
<rect x="301.46" y="529.12" width="2.4" height="115.38" fill="#6a6a6a"/>
<rect x="306.54" y="512.25" width="2.4" height="132.25" fill="#6a6a6a"/>
<rect x="311.62" y="529.5" width="2.4" height="115" fill="#6a6a6a"/>
<rect x="316.7" y="543.25" width="2.4" height="101.25" fill="#6a6a6a"/>
<rect x="321.78" y="533.88" width="2.4" height="110.62" fill="#6a6a6a"/>
<rect x="326.86" y="541.38" width="2.4" height="103.12" fill="#6a6a6a"/>
<rect x="331.94" y="562.88" width="2.4" height="81.62" fill="#6a6a6a"/>
<rect x="337.02" y="536.5" width="2.4" height="108" fill="#6a6a6a"/>
<rect x="342.1" y="546.88" width="2.4" height="97.62" fill="#6a6a6a"/>
<rect x="347.18" y="536.88" width="2.4" height="107.62" fill="#6a6a6a"/>
<rect x="352.26" y="544.62" width="2.4" height="99.88" fill="#6a6a6a"/>
<rect x="357.34" y="508.38" width="2.4" height="136.12" fill="#6a6a6a"/>
<rect x="362.42" y="533.38" width="2.4" height="111.12" fill="#6a6a6a"/>
<rect x="367.5" y="529.75" width="2.4" height="114.75" fill="#6a6a6a"/>
<rect x="372.58" y="542.25" width="2.4" height="102.25" fill="#6a6a6a"/>
<rect x="377.66" y="530.62" width="2.4" height="113.88" fill="#6a6a6a"/>
<rect x="382.74" y="521" width="2.4" height="123.5" fill="#6a6a6a"/>
<rect x="387.82" y="512.75" width="2.4" height="131.75" fill="#6a6a6a"/>
<rect x="392.9" y="526.62" width="2.4" height="117.88" fill="#6a6a6a"/>
<rect x="397.98" y="553.75" width="2.4" height="90.75" fill="#6a6a6a"/>
<rect x="403.06" y="532.75" width="2.4" height="111.75" fill="#6a6a6a"/>
<rect x="408.14" y="522.5" width="2.4" height="122" fill="#6a6a6a"/>
<rect x="413.22" y="523.75" width="2.4" height="120.75" fill="#6a6a6a"/>
<rect x="418.3" y="529" width="2.4" height="115.5" fill="#6a6a6a"/>
<rect x="423.38" y="523.12" width="2.4" height="121.38" fill="#6a6a6a"/>
<rect x="428.46" y="534.62" width="2.4" height="109.88" fill="#6a6a6a"/>
<rect x="433.54" y="530.5" width="2.4" height="114" fill="#6a6a6a"/>
<rect x="438.62" y="532.88" width="2.4" height="111.62" fill="#6a6a6a"/>
<rect x="443.7" y="545.88" width="2.4" height="98.62" fill="#6a6a6a"/>
<rect x="448.78" y="540.25" width="2.4" height="104.25" fill="#6a6a6a"/>
<rect x="453.86" y="509.62" width="2.4" height="134.88" fill="#6a6a6a"/>
<rect x="458.94" y="565.62" width="2.4" height="78.88" fill="#6a6a6a"/>
<rect x="464.02" y="513.38" width="2.4" height="131.12" fill="#6a6a6a"/>
<rect x="469.1" y="512.5" width="2.4" height="132" fill="#6a6a6a"/>
<rect x="474.18" y="493.38" width="2.4" height="151.12" fill="#6a6a6a"/>
<rect x="479.26" y="537.88" width="2.4" height="106.62" fill="#6a6a6a"/>
<rect x="484.34" y="517.88" width="2.4" height="126.62" fill="#6a6a6a"/>
<rect x="489.42" y="559.38" width="2.4" height="85.12" fill="#6a6a6a"/>
<rect x="494.5" y="522.12" width="2.4" height="122.38" fill="#6a6a6a"/>
<rect x="499.58" y="546" width="2.4" height="98.5" fill="#6a6a6a"/>
<rect x="504.66" y="533.5" width="2.4" height="111" fill="#6a6a6a"/>
<rect x="509.74" y="538.75" width="2.4" height="105.75" fill="#6a6a6a"/>
<rect x="514.82" y="529.75" width="2.4" height="114.75" fill="#6a6a6a"/>
<line x1="36" y1="575.6" x2="516.5" y2="575.6" stroke="#333" stroke-width="1.8"/>
<line x1="38.5" y1="595.2" x2="38.5" y2="610" stroke="#111" stroke-width="1.25"/>
<line x1="36.7" y1="595.2" x2="40.3" y2="595.2" stroke="#111" stroke-width="1.1"/>
<line x1="36.7" y1="610" x2="40.3" y2="610" stroke="#111" stroke-width="1.1"/>
<line x1="43.58" y1="541.25" x2="43.58" y2="549.5" stroke="#111" stroke-width="1.25"/>
<line x1="41.78" y1="541.25" x2="45.38" y2="541.25" stroke="#111" stroke-width="1.1"/>
<line x1="41.78" y1="549.5" x2="45.38" y2="549.5" stroke="#111" stroke-width="1.1"/>
<line x1="48.66" y1="527" x2="48.66" y2="532" stroke="#111" stroke-width="1.25"/>
<line x1="46.86" y1="527" x2="50.46" y2="527" stroke="#111" stroke-width="1.1"/>
<line x1="46.86" y1="532" x2="50.46" y2="532" stroke="#111" stroke-width="1.1"/>
<line x1="53.74" y1="521.75" x2="53.74" y2="538" stroke="#111" stroke-width="1.25"/>
<line x1="51.94" y1="521.75" x2="55.54" y2="521.75" stroke="#111" stroke-width="1.1"/>
<line x1="51.94" y1="538" x2="55.54" y2="538" stroke="#111" stroke-width="1.1"/>
<line x1="58.82" y1="553.25" x2="58.82" y2="565" stroke="#111" stroke-width="1.25"/>
<line x1="57.02" y1="553.25" x2="60.62" y2="553.25" stroke="#111" stroke-width="1.1"/>
<line x1="57.02" y1="565" x2="60.62" y2="565" stroke="#111" stroke-width="1.1"/>
<line x1="63.9" y1="502.4" x2="63.9" y2="503.4" stroke="#111" stroke-width="1.25"/>
<line x1="62.1" y1="502.4" x2="65.7" y2="502.4" stroke="#111" stroke-width="1.1"/>
<line x1="62.1" y1="503.4" x2="65.7" y2="503.4" stroke="#111" stroke-width="1.1"/>
<line x1="68.98" y1="518.25" x2="68.98" y2="529.25" stroke="#111" stroke-width="1.25"/>
<line x1="67.18" y1="518.25" x2="70.78" y2="518.25" stroke="#111" stroke-width="1.1"/>
<line x1="67.18" y1="529.25" x2="70.78" y2="529.25" stroke="#111" stroke-width="1.1"/>
<line x1="74.06" y1="513.25" x2="74.06" y2="535.5" stroke="#111" stroke-width="1.25"/>
<line x1="72.26" y1="513.25" x2="75.86" y2="513.25" stroke="#111" stroke-width="1.1"/>
<line x1="72.26" y1="535.5" x2="75.86" y2="535.5" stroke="#111" stroke-width="1.1"/>
<line x1="79.14" y1="494.25" x2="79.14" y2="516.25" stroke="#111" stroke-width="1.25"/>
<line x1="77.34" y1="494.25" x2="80.94" y2="494.25" stroke="#111" stroke-width="1.1"/>
<line x1="77.34" y1="516.25" x2="80.94" y2="516.25" stroke="#111" stroke-width="1.1"/>
<line x1="84.22" y1="492.5" x2="84.22" y2="517.5" stroke="#111" stroke-width="1.25"/>
<line x1="82.42" y1="492.5" x2="86.02" y2="492.5" stroke="#111" stroke-width="1.1"/>
<line x1="82.42" y1="517.5" x2="86.02" y2="517.5" stroke="#111" stroke-width="1.1"/>
<line x1="89.3" y1="510.75" x2="89.3" y2="522.5" stroke="#111" stroke-width="1.25"/>
<line x1="87.5" y1="510.75" x2="91.1" y2="510.75" stroke="#111" stroke-width="1.1"/>
<line x1="87.5" y1="522.5" x2="91.1" y2="522.5" stroke="#111" stroke-width="1.1"/>
<line x1="94.38" y1="504.25" x2="94.38" y2="572" stroke="#111" stroke-width="1.25"/>
<line x1="92.58" y1="504.25" x2="96.18" y2="504.25" stroke="#111" stroke-width="1.1"/>
<line x1="92.58" y1="572" x2="96.18" y2="572" stroke="#111" stroke-width="1.1"/>
<line x1="99.46" y1="506.25" x2="99.46" y2="577.5" stroke="#111" stroke-width="1.25"/>
<line x1="97.66" y1="506.25" x2="101.26" y2="506.25" stroke="#111" stroke-width="1.1"/>
<line x1="97.66" y1="577.5" x2="101.26" y2="577.5" stroke="#111" stroke-width="1.1"/>
<line x1="104.54" y1="529.5" x2="104.54" y2="548.75" stroke="#111" stroke-width="1.25"/>
<line x1="102.74" y1="529.5" x2="106.34" y2="529.5" stroke="#111" stroke-width="1.1"/>
<line x1="102.74" y1="548.75" x2="106.34" y2="548.75" stroke="#111" stroke-width="1.1"/>
<line x1="109.62" y1="538.25" x2="109.62" y2="552.5" stroke="#111" stroke-width="1.25"/>
<line x1="107.82" y1="538.25" x2="111.42" y2="538.25" stroke="#111" stroke-width="1.1"/>
<line x1="107.82" y1="552.5" x2="111.42" y2="552.5" stroke="#111" stroke-width="1.1"/>
<line x1="114.7" y1="540.75" x2="114.7" y2="564.5" stroke="#111" stroke-width="1.25"/>
<line x1="112.9" y1="540.75" x2="116.5" y2="540.75" stroke="#111" stroke-width="1.1"/>
<line x1="112.9" y1="564.5" x2="116.5" y2="564.5" stroke="#111" stroke-width="1.1"/>
<line x1="119.78" y1="515.5" x2="119.78" y2="536.25" stroke="#111" stroke-width="1.25"/>
<line x1="117.98" y1="515.5" x2="121.58" y2="515.5" stroke="#111" stroke-width="1.1"/>
<line x1="117.98" y1="536.25" x2="121.58" y2="536.25" stroke="#111" stroke-width="1.1"/>
<line x1="124.86" y1="532.5" x2="124.86" y2="534" stroke="#111" stroke-width="1.25"/>
<line x1="123.06" y1="532.5" x2="126.66" y2="532.5" stroke="#111" stroke-width="1.1"/>
<line x1="123.06" y1="534" x2="126.66" y2="534" stroke="#111" stroke-width="1.1"/>
<line x1="129.94" y1="513.75" x2="129.94" y2="542.5" stroke="#111" stroke-width="1.25"/>
<line x1="128.14" y1="513.75" x2="131.74" y2="513.75" stroke="#111" stroke-width="1.1"/>
<line x1="128.14" y1="542.5" x2="131.74" y2="542.5" stroke="#111" stroke-width="1.1"/>
<line x1="135.02" y1="495.75" x2="135.02" y2="523.75" stroke="#111" stroke-width="1.25"/>
<line x1="133.22" y1="495.75" x2="136.82" y2="495.75" stroke="#111" stroke-width="1.1"/>
<line x1="133.22" y1="523.75" x2="136.82" y2="523.75" stroke="#111" stroke-width="1.1"/>
<line x1="140.1" y1="520" x2="140.1" y2="529.25" stroke="#111" stroke-width="1.25"/>
<line x1="138.3" y1="520" x2="141.9" y2="520" stroke="#111" stroke-width="1.1"/>
<line x1="138.3" y1="529.25" x2="141.9" y2="529.25" stroke="#111" stroke-width="1.1"/>
<line x1="145.18" y1="509.5" x2="145.18" y2="530.5" stroke="#111" stroke-width="1.25"/>
<line x1="143.38" y1="509.5" x2="146.98" y2="509.5" stroke="#111" stroke-width="1.1"/>
<line x1="143.38" y1="530.5" x2="146.98" y2="530.5" stroke="#111" stroke-width="1.1"/>
<line x1="150.26" y1="488.75" x2="150.26" y2="535.5" stroke="#111" stroke-width="1.25"/>
<line x1="148.46" y1="488.75" x2="152.06" y2="488.75" stroke="#111" stroke-width="1.1"/>
<line x1="148.46" y1="535.5" x2="152.06" y2="535.5" stroke="#111" stroke-width="1.1"/>
<line x1="155.34" y1="480.75" x2="155.34" y2="516.75" stroke="#111" stroke-width="1.25"/>
<line x1="153.54" y1="480.75" x2="157.14" y2="480.75" stroke="#111" stroke-width="1.1"/>
<line x1="153.54" y1="516.75" x2="157.14" y2="516.75" stroke="#111" stroke-width="1.1"/>
<line x1="160.42" y1="512.5" x2="160.42" y2="542.5" stroke="#111" stroke-width="1.25"/>
<line x1="158.62" y1="512.5" x2="162.22" y2="512.5" stroke="#111" stroke-width="1.1"/>
<line x1="158.62" y1="542.5" x2="162.22" y2="542.5" stroke="#111" stroke-width="1.1"/>
<line x1="165.5" y1="533.75" x2="165.5" y2="557.5" stroke="#111" stroke-width="1.25"/>
<line x1="163.7" y1="533.75" x2="167.3" y2="533.75" stroke="#111" stroke-width="1.1"/>
<line x1="163.7" y1="557.5" x2="167.3" y2="557.5" stroke="#111" stroke-width="1.1"/>
<line x1="170.58" y1="532" x2="170.58" y2="553" stroke="#111" stroke-width="1.25"/>
<line x1="168.78" y1="532" x2="172.38" y2="532" stroke="#111" stroke-width="1.1"/>
<line x1="168.78" y1="553" x2="172.38" y2="553" stroke="#111" stroke-width="1.1"/>
<line x1="175.66" y1="522.5" x2="175.66" y2="530.5" stroke="#111" stroke-width="1.25"/>
<line x1="173.86" y1="522.5" x2="177.46" y2="522.5" stroke="#111" stroke-width="1.1"/>
<line x1="173.86" y1="530.5" x2="177.46" y2="530.5" stroke="#111" stroke-width="1.1"/>
<line x1="180.74" y1="515.75" x2="180.74" y2="546.25" stroke="#111" stroke-width="1.25"/>
<line x1="178.94" y1="515.75" x2="182.54" y2="515.75" stroke="#111" stroke-width="1.1"/>
<line x1="178.94" y1="546.25" x2="182.54" y2="546.25" stroke="#111" stroke-width="1.1"/>
<line x1="185.82" y1="561.75" x2="185.82" y2="573.75" stroke="#111" stroke-width="1.25"/>
<line x1="184.02" y1="561.75" x2="187.62" y2="561.75" stroke="#111" stroke-width="1.1"/>
<line x1="184.02" y1="573.75" x2="187.62" y2="573.75" stroke="#111" stroke-width="1.1"/>
<line x1="190.9" y1="490.5" x2="190.9" y2="511.25" stroke="#111" stroke-width="1.25"/>
<line x1="189.1" y1="490.5" x2="192.7" y2="490.5" stroke="#111" stroke-width="1.1"/>
<line x1="189.1" y1="511.25" x2="192.7" y2="511.25" stroke="#111" stroke-width="1.1"/>
<line x1="195.98" y1="495" x2="195.98" y2="503.75" stroke="#111" stroke-width="1.25"/>
<line x1="194.18" y1="495" x2="197.78" y2="495" stroke="#111" stroke-width="1.1"/>
<line x1="194.18" y1="503.75" x2="197.78" y2="503.75" stroke="#111" stroke-width="1.1"/>
<line x1="201.06" y1="501.75" x2="201.06" y2="523" stroke="#111" stroke-width="1.25"/>
<line x1="199.26" y1="501.75" x2="202.86" y2="501.75" stroke="#111" stroke-width="1.1"/>
<line x1="199.26" y1="523" x2="202.86" y2="523" stroke="#111" stroke-width="1.1"/>
<line x1="206.14" y1="610.75" x2="206.14" y2="615" stroke="#111" stroke-width="1.25"/>
<line x1="204.34" y1="610.75" x2="207.94" y2="610.75" stroke="#111" stroke-width="1.1"/>
<line x1="204.34" y1="615" x2="207.94" y2="615" stroke="#111" stroke-width="1.1"/>
<line x1="211.22" y1="524.25" x2="211.22" y2="543.75" stroke="#111" stroke-width="1.25"/>
<line x1="209.42" y1="524.25" x2="213.02" y2="524.25" stroke="#111" stroke-width="1.1"/>
<line x1="209.42" y1="543.75" x2="213.02" y2="543.75" stroke="#111" stroke-width="1.1"/>
<line x1="216.3" y1="515.75" x2="216.3" y2="527.5" stroke="#111" stroke-width="1.25"/>
<line x1="214.5" y1="515.75" x2="218.1" y2="515.75" stroke="#111" stroke-width="1.1"/>
<line x1="214.5" y1="527.5" x2="218.1" y2="527.5" stroke="#111" stroke-width="1.1"/>
<line x1="221.38" y1="532" x2="221.38" y2="537.5" stroke="#111" stroke-width="1.25"/>
<line x1="219.58" y1="532" x2="223.18" y2="532" stroke="#111" stroke-width="1.1"/>
<line x1="219.58" y1="537.5" x2="223.18" y2="537.5" stroke="#111" stroke-width="1.1"/>
<line x1="226.46" y1="520.5" x2="226.46" y2="533" stroke="#111" stroke-width="1.25"/>
<line x1="224.66" y1="520.5" x2="228.26" y2="520.5" stroke="#111" stroke-width="1.1"/>
<line x1="224.66" y1="533" x2="228.26" y2="533" stroke="#111" stroke-width="1.1"/>
<line x1="231.54" y1="545.5" x2="231.54" y2="553.75" stroke="#111" stroke-width="1.25"/>
<line x1="229.74" y1="545.5" x2="233.34" y2="545.5" stroke="#111" stroke-width="1.1"/>
<line x1="229.74" y1="553.75" x2="233.34" y2="553.75" stroke="#111" stroke-width="1.1"/>
<line x1="236.62" y1="550" x2="236.62" y2="560.5" stroke="#111" stroke-width="1.25"/>
<line x1="234.82" y1="550" x2="238.42" y2="550" stroke="#111" stroke-width="1.1"/>
<line x1="234.82" y1="560.5" x2="238.42" y2="560.5" stroke="#111" stroke-width="1.1"/>
<line x1="241.7" y1="527.5" x2="241.7" y2="535.5" stroke="#111" stroke-width="1.25"/>
<line x1="239.9" y1="527.5" x2="243.5" y2="527.5" stroke="#111" stroke-width="1.1"/>
<line x1="239.9" y1="535.5" x2="243.5" y2="535.5" stroke="#111" stroke-width="1.1"/>
<line x1="246.78" y1="508.25" x2="246.78" y2="533.75" stroke="#111" stroke-width="1.25"/>
<line x1="244.98" y1="508.25" x2="248.58" y2="508.25" stroke="#111" stroke-width="1.1"/>
<line x1="244.98" y1="533.75" x2="248.58" y2="533.75" stroke="#111" stroke-width="1.1"/>
<line x1="251.86" y1="535" x2="251.86" y2="560.5" stroke="#111" stroke-width="1.25"/>
<line x1="250.06" y1="535" x2="253.66" y2="535" stroke="#111" stroke-width="1.1"/>
<line x1="250.06" y1="560.5" x2="253.66" y2="560.5" stroke="#111" stroke-width="1.1"/>
<line x1="256.94" y1="505" x2="256.94" y2="548" stroke="#111" stroke-width="1.25"/>
<line x1="255.14" y1="505" x2="258.74" y2="505" stroke="#111" stroke-width="1.1"/>
<line x1="255.14" y1="548" x2="258.74" y2="548" stroke="#111" stroke-width="1.1"/>
<line x1="262.02" y1="495.5" x2="262.02" y2="500.5" stroke="#111" stroke-width="1.25"/>
<line x1="260.22" y1="495.5" x2="263.82" y2="495.5" stroke="#111" stroke-width="1.1"/>
<line x1="260.22" y1="500.5" x2="263.82" y2="500.5" stroke="#111" stroke-width="1.1"/>
<line x1="267.1" y1="511.25" x2="267.1" y2="539.5" stroke="#111" stroke-width="1.25"/>
<line x1="265.3" y1="511.25" x2="268.9" y2="511.25" stroke="#111" stroke-width="1.1"/>
<line x1="265.3" y1="539.5" x2="268.9" y2="539.5" stroke="#111" stroke-width="1.1"/>
<line x1="272.18" y1="514.5" x2="272.18" y2="533" stroke="#111" stroke-width="1.25"/>
<line x1="270.38" y1="514.5" x2="273.98" y2="514.5" stroke="#111" stroke-width="1.1"/>
<line x1="270.38" y1="533" x2="273.98" y2="533" stroke="#111" stroke-width="1.1"/>
<line x1="277.26" y1="522.5" x2="277.26" y2="542.5" stroke="#111" stroke-width="1.25"/>
<line x1="275.46" y1="522.5" x2="279.06" y2="522.5" stroke="#111" stroke-width="1.1"/>
<line x1="275.46" y1="542.5" x2="279.06" y2="542.5" stroke="#111" stroke-width="1.1"/>
<line x1="282.34" y1="508.75" x2="282.34" y2="535.5" stroke="#111" stroke-width="1.25"/>
<line x1="280.54" y1="508.75" x2="284.14" y2="508.75" stroke="#111" stroke-width="1.1"/>
<line x1="280.54" y1="535.5" x2="284.14" y2="535.5" stroke="#111" stroke-width="1.1"/>
<line x1="287.42" y1="515" x2="287.42" y2="544.5" stroke="#111" stroke-width="1.25"/>
<line x1="285.62" y1="515" x2="289.22" y2="515" stroke="#111" stroke-width="1.1"/>
<line x1="285.62" y1="544.5" x2="289.22" y2="544.5" stroke="#111" stroke-width="1.1"/>
<line x1="292.5" y1="494.5" x2="292.5" y2="507.5" stroke="#111" stroke-width="1.25"/>
<line x1="290.7" y1="494.5" x2="294.3" y2="494.5" stroke="#111" stroke-width="1.1"/>
<line x1="290.7" y1="507.5" x2="294.3" y2="507.5" stroke="#111" stroke-width="1.1"/>
<line x1="297.58" y1="528" x2="297.58" y2="543" stroke="#111" stroke-width="1.25"/>
<line x1="295.78" y1="528" x2="299.38" y2="528" stroke="#111" stroke-width="1.1"/>
<line x1="295.78" y1="543" x2="299.38" y2="543" stroke="#111" stroke-width="1.1"/>
<line x1="302.66" y1="524.5" x2="302.66" y2="533.75" stroke="#111" stroke-width="1.25"/>
<line x1="300.86" y1="524.5" x2="304.46" y2="524.5" stroke="#111" stroke-width="1.1"/>
<line x1="300.86" y1="533.75" x2="304.46" y2="533.75" stroke="#111" stroke-width="1.1"/>
<line x1="307.74" y1="509.5" x2="307.74" y2="515" stroke="#111" stroke-width="1.25"/>
<line x1="305.94" y1="509.5" x2="309.54" y2="509.5" stroke="#111" stroke-width="1.1"/>
<line x1="305.94" y1="515" x2="309.54" y2="515" stroke="#111" stroke-width="1.1"/>
<line x1="312.82" y1="522" x2="312.82" y2="537" stroke="#111" stroke-width="1.25"/>
<line x1="311.02" y1="522" x2="314.62" y2="522" stroke="#111" stroke-width="1.1"/>
<line x1="311.02" y1="537" x2="314.62" y2="537" stroke="#111" stroke-width="1.1"/>
<line x1="317.9" y1="533.25" x2="317.9" y2="553.25" stroke="#111" stroke-width="1.25"/>
<line x1="316.1" y1="533.25" x2="319.7" y2="533.25" stroke="#111" stroke-width="1.1"/>
<line x1="316.1" y1="553.25" x2="319.7" y2="553.25" stroke="#111" stroke-width="1.1"/>
<line x1="322.98" y1="530.75" x2="322.98" y2="537" stroke="#111" stroke-width="1.25"/>
<line x1="321.18" y1="530.75" x2="324.78" y2="530.75" stroke="#111" stroke-width="1.1"/>
<line x1="321.18" y1="537" x2="324.78" y2="537" stroke="#111" stroke-width="1.1"/>
<line x1="328.06" y1="539.5" x2="328.06" y2="543.25" stroke="#111" stroke-width="1.25"/>
<line x1="326.26" y1="539.5" x2="329.86" y2="539.5" stroke="#111" stroke-width="1.1"/>
<line x1="326.26" y1="543.25" x2="329.86" y2="543.25" stroke="#111" stroke-width="1.1"/>
<line x1="333.14" y1="558.25" x2="333.14" y2="567.5" stroke="#111" stroke-width="1.25"/>
<line x1="331.34" y1="558.25" x2="334.94" y2="558.25" stroke="#111" stroke-width="1.1"/>
<line x1="331.34" y1="567.5" x2="334.94" y2="567.5" stroke="#111" stroke-width="1.1"/>
<line x1="338.22" y1="518" x2="338.22" y2="555" stroke="#111" stroke-width="1.25"/>
<line x1="336.42" y1="518" x2="340.02" y2="518" stroke="#111" stroke-width="1.1"/>
<line x1="336.42" y1="555" x2="340.02" y2="555" stroke="#111" stroke-width="1.1"/>
<line x1="343.3" y1="540.75" x2="343.3" y2="553" stroke="#111" stroke-width="1.25"/>
<line x1="341.5" y1="540.75" x2="345.1" y2="540.75" stroke="#111" stroke-width="1.1"/>
<line x1="341.5" y1="553" x2="345.1" y2="553" stroke="#111" stroke-width="1.1"/>
<line x1="348.38" y1="523.75" x2="348.38" y2="550" stroke="#111" stroke-width="1.25"/>
<line x1="346.58" y1="523.75" x2="350.18" y2="523.75" stroke="#111" stroke-width="1.1"/>
<line x1="346.58" y1="550" x2="350.18" y2="550" stroke="#111" stroke-width="1.1"/>
<line x1="353.46" y1="537.5" x2="353.46" y2="551.75" stroke="#111" stroke-width="1.25"/>
<line x1="351.66" y1="537.5" x2="355.26" y2="537.5" stroke="#111" stroke-width="1.1"/>
<line x1="351.66" y1="551.75" x2="355.26" y2="551.75" stroke="#111" stroke-width="1.1"/>
<line x1="358.54" y1="500.5" x2="358.54" y2="516.25" stroke="#111" stroke-width="1.25"/>
<line x1="356.74" y1="500.5" x2="360.34" y2="500.5" stroke="#111" stroke-width="1.1"/>
<line x1="356.74" y1="516.25" x2="360.34" y2="516.25" stroke="#111" stroke-width="1.1"/>
<line x1="363.62" y1="529.25" x2="363.62" y2="537.5" stroke="#111" stroke-width="1.25"/>
<line x1="361.82" y1="529.25" x2="365.42" y2="529.25" stroke="#111" stroke-width="1.1"/>
<line x1="361.82" y1="537.5" x2="365.42" y2="537.5" stroke="#111" stroke-width="1.1"/>
<line x1="368.7" y1="520.75" x2="368.7" y2="538.75" stroke="#111" stroke-width="1.25"/>
<line x1="366.9" y1="520.75" x2="370.5" y2="520.75" stroke="#111" stroke-width="1.1"/>
<line x1="366.9" y1="538.75" x2="370.5" y2="538.75" stroke="#111" stroke-width="1.1"/>
<line x1="373.78" y1="536.25" x2="373.78" y2="548.25" stroke="#111" stroke-width="1.25"/>
<line x1="371.98" y1="536.25" x2="375.58" y2="536.25" stroke="#111" stroke-width="1.1"/>
<line x1="371.98" y1="548.25" x2="375.58" y2="548.25" stroke="#111" stroke-width="1.1"/>
<line x1="378.86" y1="522.5" x2="378.86" y2="538.75" stroke="#111" stroke-width="1.25"/>
<line x1="377.06" y1="522.5" x2="380.66" y2="522.5" stroke="#111" stroke-width="1.1"/>
<line x1="377.06" y1="538.75" x2="380.66" y2="538.75" stroke="#111" stroke-width="1.1"/>
<line x1="383.94" y1="519.5" x2="383.94" y2="522.5" stroke="#111" stroke-width="1.25"/>
<line x1="382.14" y1="519.5" x2="385.74" y2="519.5" stroke="#111" stroke-width="1.1"/>
<line x1="382.14" y1="522.5" x2="385.74" y2="522.5" stroke="#111" stroke-width="1.1"/>
<line x1="389.02" y1="503" x2="389.02" y2="522.5" stroke="#111" stroke-width="1.25"/>
<line x1="387.22" y1="503" x2="390.82" y2="503" stroke="#111" stroke-width="1.1"/>
<line x1="387.22" y1="522.5" x2="390.82" y2="522.5" stroke="#111" stroke-width="1.1"/>
<line x1="394.1" y1="514.5" x2="394.1" y2="538.75" stroke="#111" stroke-width="1.25"/>
<line x1="392.3" y1="514.5" x2="395.9" y2="514.5" stroke="#111" stroke-width="1.1"/>
<line x1="392.3" y1="538.75" x2="395.9" y2="538.75" stroke="#111" stroke-width="1.1"/>
<line x1="399.18" y1="550" x2="399.18" y2="557.5" stroke="#111" stroke-width="1.25"/>
<line x1="397.38" y1="550" x2="400.98" y2="550" stroke="#111" stroke-width="1.1"/>
<line x1="397.38" y1="557.5" x2="400.98" y2="557.5" stroke="#111" stroke-width="1.1"/>
<line x1="404.26" y1="527.5" x2="404.26" y2="538" stroke="#111" stroke-width="1.25"/>
<line x1="402.46" y1="527.5" x2="406.06" y2="527.5" stroke="#111" stroke-width="1.1"/>
<line x1="402.46" y1="538" x2="406.06" y2="538" stroke="#111" stroke-width="1.1"/>
<line x1="409.34" y1="516.25" x2="409.34" y2="528.75" stroke="#111" stroke-width="1.25"/>
<line x1="407.54" y1="516.25" x2="411.14" y2="516.25" stroke="#111" stroke-width="1.1"/>
<line x1="407.54" y1="528.75" x2="411.14" y2="528.75" stroke="#111" stroke-width="1.1"/>
<line x1="414.42" y1="518.75" x2="414.42" y2="528.75" stroke="#111" stroke-width="1.25"/>
<line x1="412.62" y1="518.75" x2="416.22" y2="518.75" stroke="#111" stroke-width="1.1"/>
<line x1="412.62" y1="528.75" x2="416.22" y2="528.75" stroke="#111" stroke-width="1.1"/>
<line x1="419.5" y1="525.5" x2="419.5" y2="532.5" stroke="#111" stroke-width="1.25"/>
<line x1="417.7" y1="525.5" x2="421.3" y2="525.5" stroke="#111" stroke-width="1.1"/>
<line x1="417.7" y1="532.5" x2="421.3" y2="532.5" stroke="#111" stroke-width="1.1"/>
<line x1="424.58" y1="512.5" x2="424.58" y2="533.75" stroke="#111" stroke-width="1.25"/>
<line x1="422.78" y1="512.5" x2="426.38" y2="512.5" stroke="#111" stroke-width="1.1"/>
<line x1="422.78" y1="533.75" x2="426.38" y2="533.75" stroke="#111" stroke-width="1.1"/>
<line x1="429.66" y1="533" x2="429.66" y2="536.25" stroke="#111" stroke-width="1.25"/>
<line x1="427.86" y1="533" x2="431.46" y2="533" stroke="#111" stroke-width="1.1"/>
<line x1="427.86" y1="536.25" x2="431.46" y2="536.25" stroke="#111" stroke-width="1.1"/>
<line x1="434.74" y1="525.5" x2="434.74" y2="535.5" stroke="#111" stroke-width="1.25"/>
<line x1="432.94" y1="525.5" x2="436.54" y2="525.5" stroke="#111" stroke-width="1.1"/>
<line x1="432.94" y1="535.5" x2="436.54" y2="535.5" stroke="#111" stroke-width="1.1"/>
<line x1="439.82" y1="522" x2="439.82" y2="543.75" stroke="#111" stroke-width="1.25"/>
<line x1="438.02" y1="522" x2="441.62" y2="522" stroke="#111" stroke-width="1.1"/>
<line x1="438.02" y1="543.75" x2="441.62" y2="543.75" stroke="#111" stroke-width="1.1"/>
<line x1="444.9" y1="537.5" x2="444.9" y2="554.25" stroke="#111" stroke-width="1.25"/>
<line x1="443.1" y1="537.5" x2="446.7" y2="537.5" stroke="#111" stroke-width="1.1"/>
<line x1="443.1" y1="554.25" x2="446.7" y2="554.25" stroke="#111" stroke-width="1.1"/>
<line x1="449.98" y1="525.5" x2="449.98" y2="555" stroke="#111" stroke-width="1.25"/>
<line x1="448.18" y1="525.5" x2="451.78" y2="525.5" stroke="#111" stroke-width="1.1"/>
<line x1="448.18" y1="555" x2="451.78" y2="555" stroke="#111" stroke-width="1.1"/>
<line x1="455.06" y1="500.5" x2="455.06" y2="518.75" stroke="#111" stroke-width="1.25"/>
<line x1="453.26" y1="500.5" x2="456.86" y2="500.5" stroke="#111" stroke-width="1.1"/>
<line x1="453.26" y1="518.75" x2="456.86" y2="518.75" stroke="#111" stroke-width="1.1"/>
<line x1="460.14" y1="561.25" x2="460.14" y2="570" stroke="#111" stroke-width="1.25"/>
<line x1="458.34" y1="561.25" x2="461.94" y2="561.25" stroke="#111" stroke-width="1.1"/>
<line x1="458.34" y1="570" x2="461.94" y2="570" stroke="#111" stroke-width="1.1"/>
<line x1="465.22" y1="497.5" x2="465.22" y2="529.25" stroke="#111" stroke-width="1.25"/>
<line x1="463.42" y1="497.5" x2="467.02" y2="497.5" stroke="#111" stroke-width="1.1"/>
<line x1="463.42" y1="529.25" x2="467.02" y2="529.25" stroke="#111" stroke-width="1.1"/>
<line x1="470.3" y1="500.5" x2="470.3" y2="524.5" stroke="#111" stroke-width="1.25"/>
<line x1="468.5" y1="500.5" x2="472.1" y2="500.5" stroke="#111" stroke-width="1.1"/>
<line x1="468.5" y1="524.5" x2="472.1" y2="524.5" stroke="#111" stroke-width="1.1"/>
<line x1="475.38" y1="484.25" x2="475.38" y2="502.5" stroke="#111" stroke-width="1.25"/>
<line x1="473.58" y1="484.25" x2="477.18" y2="484.25" stroke="#111" stroke-width="1.1"/>
<line x1="473.58" y1="502.5" x2="477.18" y2="502.5" stroke="#111" stroke-width="1.1"/>
<line x1="480.46" y1="532.5" x2="480.46" y2="543.25" stroke="#111" stroke-width="1.25"/>
<line x1="478.66" y1="532.5" x2="482.26" y2="532.5" stroke="#111" stroke-width="1.1"/>
<line x1="478.66" y1="543.25" x2="482.26" y2="543.25" stroke="#111" stroke-width="1.1"/>
<line x1="485.54" y1="506.25" x2="485.54" y2="529.5" stroke="#111" stroke-width="1.25"/>
<line x1="483.74" y1="506.25" x2="487.34" y2="506.25" stroke="#111" stroke-width="1.1"/>
<line x1="483.74" y1="529.5" x2="487.34" y2="529.5" stroke="#111" stroke-width="1.1"/>
<line x1="490.62" y1="546.25" x2="490.62" y2="572.5" stroke="#111" stroke-width="1.25"/>
<line x1="488.82" y1="546.25" x2="492.42" y2="546.25" stroke="#111" stroke-width="1.1"/>
<line x1="488.82" y1="572.5" x2="492.42" y2="572.5" stroke="#111" stroke-width="1.1"/>
<line x1="495.7" y1="513" x2="495.7" y2="531.25" stroke="#111" stroke-width="1.25"/>
<line x1="493.9" y1="513" x2="497.5" y2="513" stroke="#111" stroke-width="1.1"/>
<line x1="493.9" y1="531.25" x2="497.5" y2="531.25" stroke="#111" stroke-width="1.1"/>
<line x1="500.78" y1="541.25" x2="500.78" y2="550.75" stroke="#111" stroke-width="1.25"/>
<line x1="498.98" y1="541.25" x2="502.58" y2="541.25" stroke="#111" stroke-width="1.1"/>
<line x1="498.98" y1="550.75" x2="502.58" y2="550.75" stroke="#111" stroke-width="1.1"/>
<line x1="505.86" y1="519.5" x2="505.86" y2="547.5" stroke="#111" stroke-width="1.25"/>
<line x1="504.06" y1="519.5" x2="507.66" y2="519.5" stroke="#111" stroke-width="1.1"/>
<line x1="504.06" y1="547.5" x2="507.66" y2="547.5" stroke="#111" stroke-width="1.1"/>
<line x1="510.94" y1="529.25" x2="510.94" y2="548.25" stroke="#111" stroke-width="1.25"/>
<line x1="509.14" y1="529.25" x2="512.74" y2="529.25" stroke="#111" stroke-width="1.1"/>
<line x1="509.14" y1="548.25" x2="512.74" y2="548.25" stroke="#111" stroke-width="1.1"/>
<line x1="516.02" y1="522" x2="516.02" y2="537.5" stroke="#111" stroke-width="1.25"/>
<line x1="514.22" y1="522" x2="517.82" y2="522" stroke="#111" stroke-width="1.1"/>
<line x1="514.22" y1="537.5" x2="517.82" y2="537.5" stroke="#111" stroke-width="1.1"/>
<text transform="translate(40.2 653.5) rotate(-45)" font-size="9.4" text-anchor="end" font-weight="normal" fill="#222" stroke="#222" stroke-width="0.35">ABL1</text>
<text transform="translate(209.9 653.5) rotate(-45)" font-size="9.4" text-anchor="end" font-weight="normal" fill="#222" stroke="#222" stroke-width="0.35">FGFR3</text>
</svg>
</body></html>
